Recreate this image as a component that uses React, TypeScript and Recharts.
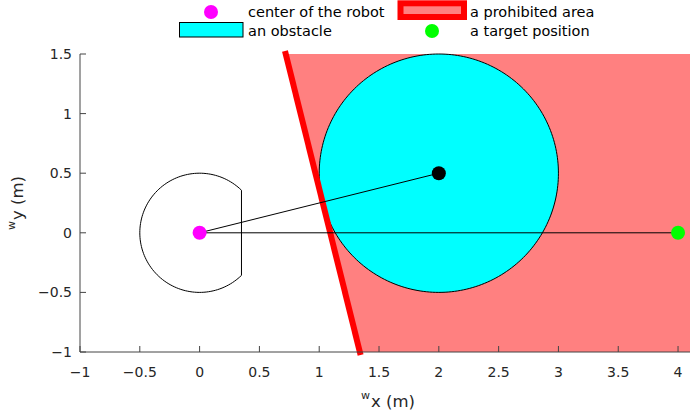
import React from 'react';
import { ComposedChart, XAxis, YAxis, Area, Line, Scatter, Legend } from 'recharts';

// axes
const X_DOMAIN = [-1, 4.1];
const Y_DOMAIN = [-1, 1.5];
const X_TICKS = [-1, -0.5, 0, 0.5, 1, 1.5, 2, 2.5, 3, 3.5, 4];
const Y_TICKS = [-1, -0.5, 0, 0.5, 1, 1.5];

// scene (metres)
const ROBOT = [{ x: 0, y: 0 }];
const ROBOT_RADIUS = 0.5;
const ROBOT_CUT_X = 0.35;
const OBSTACLE = [{ x: 2, y: 0.5 }];
const OBSTACLE_RADIUS = 1;
const TARGET = [{ x: 4, y: 0 }];
const TO_OBSTACLE = [{ x: 0, y: 0 }, { x: 2, y: 0.5 }];
const TO_TARGET = [{ x: 0, y: 0 }, { x: 4, y: 0 }];
const BOUNDARY = [{ x: 0.72, y: 1.5 }, { x: 1.34, y: -1 }];
const PROHIBITED = [
  { x: 0.72, range: [1.5, 1.5] },
  { x: 1.34, range: [-1, 1.5] },
  { x: 4.1, range: [-1, 1.5] },
];

const FONT = "'DejaVu Sans', sans-serif";
const AXIS = '#444';
const TEXT = '#262626';
const PINK = '#ff8080';

// outline of a disc as a range (low, high) per x
const discRange = (c: { x: number; y: number }, r: number, n = 120) => {
  const pts = [];
  for (let i = 0; i <= n; i++) {
    const t = Math.PI - (Math.PI * i) / n;
    const h = r * Math.sin(t);
    pts.push({ x: c.x + r * Math.cos(t), range: [c.y - h, c.y + h] });
  }
  return pts;
};

// robot body: disc cut flat at x = ROBOT_CUT_X
const robotOutline = () => {
  const c = ROBOT[0];
  const a0 = Math.acos(ROBOT_CUT_X / ROBOT_RADIUS);
  const pts = [];
  const n = 120;
  for (let i = 0; i <= n; i++) {
    const t = a0 + ((2 * Math.PI - 2 * a0) * i) / n;
    pts.push({ x: c.x + ROBOT_RADIUS * Math.cos(t), y: c.y + ROBOT_RADIUS * Math.sin(t) });
  }
  pts.push(pts[0]);
  return pts;
};

const fmt = (v: number) => (v < 0 ? '\u2212' + Math.abs(v) : String(v));

const XTick = ({ x, y, payload }: any) => (
  <g>
    <line x1={x} y1={y} x2={x} y2={y - 6} stroke={AXIS} />
    <text x={x} y={y + 25} textAnchor="middle" fontFamily={FONT} fontSize={14} fill={TEXT}>
      {fmt(payload.value)}
    </text>
  </g>
);

const YTick = ({ x, y, payload }: any) => (
  <g>
    <line x1={x} y1={y} x2={x + 6} y2={y} stroke={AXIS} />
    <text x={x - 8} y={y + 5} textAnchor="end" fontFamily={FONT} fontSize={14} fill={TEXT}>
      {fmt(payload.value)}
    </text>
  </g>
);

const XLabel = (props: any) => {
  const vb = props.viewBox || { x: 80, y: 352, width: 610, height: 66 };
  return (
    <text x={vb.x + vb.width / 2 + 3} y={vb.y + 55} textAnchor="middle" fontFamily={FONT} fontSize={16.5} fill={TEXT}>
      <tspan fontSize={11} dy={-8}>w</tspan>
      <tspan dy={8} dx={1}>x (m)</tspan>
    </text>
  );
};

const YLabel = (props: any) => {
  const vb = props.viewBox || { x: 0, y: 54, width: 80, height: 298 };
  const cx = 23;
  const cy = vb.y + vb.height / 2;
  return (
    <text
      x={cx}
      y={cy}
      transform={`rotate(-90 ${cx} ${cy})`}
      textAnchor="middle"
      fontFamily={FONT}
      fontSize={16.5}
      fill={TEXT}
    >
      <tspan fontSize={11} dy={-8}>w</tspan>
      <tspan dy={8} dx={1}>y (m)</tspan>
    </text>
  );
};

const LegendBox = () => (
  <svg width={691} height={40} style={{ display: 'block' }}>
    <g fontFamily={FONT} fontSize={14.5} fill="#000">
      <circle cx={211} cy={12} r={7} fill="#ff00ff" />
      <text x={248} y={17}>center of the robot</text>
      <rect x={400.5} y={3.3} width={63.5} height={13.7} fill={PINK} stroke="#ff0000" strokeWidth={6} />
      <text x={470} y={17}>a prohibited area</text>
      <rect x={179.5} y={22.5} width={63.5} height={14.5} fill="#00ffff" stroke="#000" strokeWidth={1} />
      <text x={248} y={36}>an obstacle</text>
      <circle cx={432} cy={31} r={7} fill="#00ff00" />
      <text x={470} y={36}>a target position</text>
    </g>
  </svg>
);

const dot = (fill: string) => (p: any) => <circle cx={p.cx} cy={p.cy} r={7} fill={fill} />;

export default function App() {
  return (
    <div style={{ width: 691, height: 418 }}>
      <style>{'body{margin:0}'}</style>
      <ComposedChart width={691} height={418} margin={{ top: 14, right: 1, left: 0, bottom: 0 }}>
        <Legend
          verticalAlign="top"
          align="left"
          content={<LegendBox />}
          wrapperStyle={{ top: 0, left: 0, width: 691, height: 40 }}
        />
        <XAxis
          type="number"
          dataKey="x"
          domain={X_DOMAIN}
          ticks={X_TICKS}
          interval={0}
          height={66}
          tickSize={0}
          tickMargin={0}
          tickLine={false}
          axisLine={{ stroke: AXIS }}
          tick={<XTick />}
          label={<XLabel />}
        />
        <YAxis
          type="number"
          dataKey="y"
          domain={Y_DOMAIN}
          ticks={Y_TICKS}
          interval={0}
          width={80}
          tickSize={0}
          tickMargin={0}
          tickLine={false}
          axisLine={{ stroke: AXIS }}
          tick={<YTick />}
          label={<YLabel />}
        />
        <Area
          data={PROHIBITED}
          dataKey="range"
          type="linear"
          stroke="none"
          fill={PINK}
          fillOpacity={1}
          dot={false}
          activeDot={false}
          isAnimationActive={false}
        />
        <Area
          data={discRange(OBSTACLE[0], OBSTACLE_RADIUS)}
          dataKey="range"
          type="linear"
          stroke="#000"
          strokeWidth={1}
          fill="#00ffff"
          fillOpacity={1}
          dot={false}
          activeDot={false}
          isAnimationActive={false}
        />
        <Line
          data={BOUNDARY}
          dataKey="y"
          type="linear"
          stroke="#ff0000"
          strokeWidth={6}
          strokeLinecap="square"
          dot={false}
          activeDot={false}
          isAnimationActive={false}
        />
        <Line data={robotOutline()} dataKey="y" type="linear" stroke="#000" strokeWidth={1} dot={false} activeDot={false} isAnimationActive={false} />
        <Line data={TO_OBSTACLE} dataKey="y" type="linear" stroke="#000" strokeWidth={1} dot={false} activeDot={false} isAnimationActive={false} />
        <Line data={TO_TARGET} dataKey="y" type="linear" stroke="#000" strokeWidth={1} dot={false} activeDot={false} isAnimationActive={false} />
        <Scatter data={ROBOT} dataKey="y" shape={dot('#ff00ff')} isAnimationActive={false} />
        <Scatter data={OBSTACLE} dataKey="y" shape={dot('#000000')} isAnimationActive={false} />
        <Scatter data={TARGET} dataKey="y" shape={dot('#00ff00')} isAnimationActive={false} />
      </ComposedChart>
    </div>
  );
}
